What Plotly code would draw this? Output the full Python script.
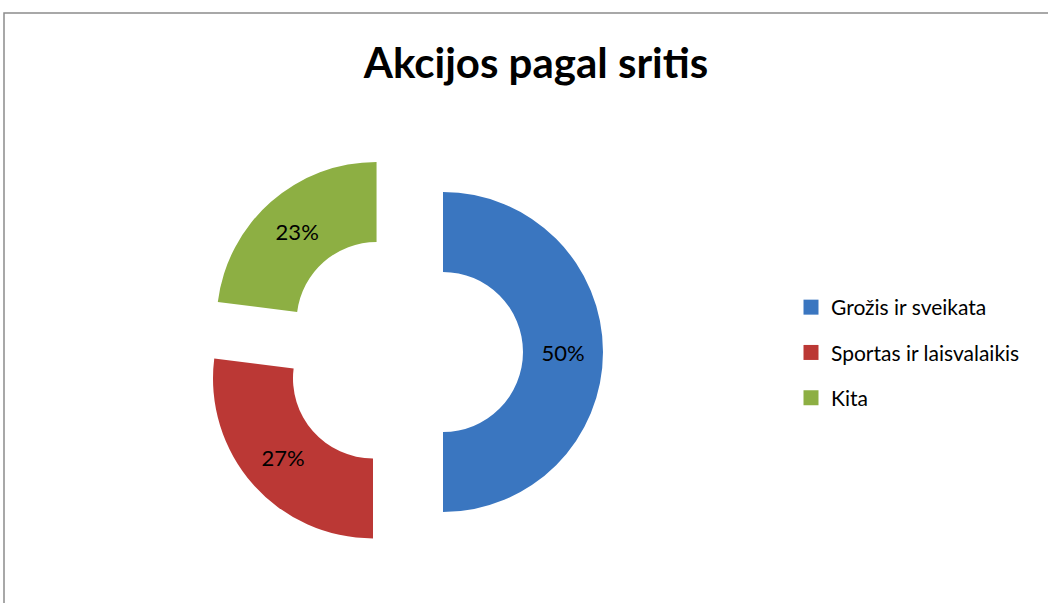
import plotly.graph_objects as go

categories = ["Grožis ir sveikata", "Sportas ir laisvalaikis", "Kita"]
values = [50, 27, 23]
colors = ["#3A76C0", "#BB3835", "#8DAF43"]

W, H = 1048, 603
FONT = "Lato"

fig = go.Figure()

fig.add_trace(go.Pie(
    labels=categories,
    values=values,
    marker=dict(colors=colors, line=dict(width=0)),
    hole=0.5,
    pull=[0.25, 0.25, 0.25],
    sort=False,
    direction="clockwise",
    rotation=0,
    textinfo="percent",
    textposition="inside",
    insidetextorientation="horizontal",
    textfont=dict(family=FONT, size=22, color="black"),
    domain=dict(x=[203 / W, 603 / W], y=[1 - 552 / H, 1 - 152 / H]),
    showlegend=False,
))

# legend entries (one per category)
for i, (c, col) in enumerate(zip(categories, colors)):
    fig.add_trace(go.Scatter(
        x=[None], y=[None], mode="markers", name=c,
        marker=dict(symbol="square", size=15, color=col),
        legendgroup=f"g{i}", showlegend=True, hoverinfo="skip",
    ))

fig.update_layout(
    width=W, height=H,
    margin=dict(l=0, r=0, t=0, b=0),
    paper_bgcolor="white", plot_bgcolor="white",
    title=dict(text="<b>Akcijos pagal sritis</b>", x=536 / W, xanchor="center",
               y=1 - 63 / H, yanchor="middle", yref="container",
               font=dict(family=FONT, size=42, color="black")),
    xaxis=dict(visible=False), yaxis=dict(visible=False),
    legend=dict(x=791 / W, xanchor="left", y=1 - 287 / H, yanchor="top",
                font=dict(family=FONT, size=21, color="black"),
                itemwidth=30,
                tracegroupgap=15, bgcolor="rgba(0,0,0,0)"),
    shapes=[dict(type="rect", xref="paper", yref="paper",
                 x0=4 / W, x1=1.02, y0=-0.02, y1=1 - 13 / H,
                 line=dict(color="#8C8C8C", width=1.5), layer="below")],
)

fig.write_html("out.html", config={"displayModeBar": False},
               post_script="document.body.style.margin='0';")
